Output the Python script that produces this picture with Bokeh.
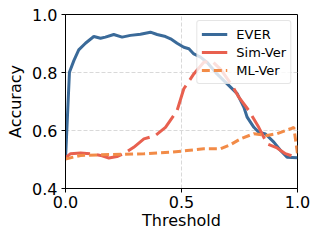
from bokeh.plotting import figure
from bokeh.models import Legend, LegendItem, FixedTicker, Range1d, NumeralTickFormatter
from bokeh.embed import file_html
from bokeh.resources import INLINE

ever_t = [0, 0.017, 0.036, 0.057, 0.086, 0.122, 0.151, 0.172, 0.208, 0.244, 0.28, 0.323, 0.366,
          0.395, 0.431, 0.453, 0.481, 0.51, 0.532, 0.553, 0.582, 0.61, 0.653, 0.697, 0.74, 0.769,
          0.783, 0.812, 0.833, 0.862, 0.898, 0.927, 0.955, 1.0]
ever_acc = [0.5, 0.801, 0.841, 0.878, 0.901, 0.924, 0.918, 0.922, 0.931, 0.922, 0.928, 0.932, 0.939,
            0.931, 0.924, 0.916, 0.901, 0.887, 0.882, 0.864, 0.853, 0.835, 0.795, 0.761, 0.727, 0.68,
            0.646, 0.611, 0.594, 0.588, 0.56, 0.531, 0.508, 0.506]

sim_t = [0, 0.022, 0.065, 0.108, 0.151, 0.187, 0.222, 0.251, 0.294, 0.338, 0.388, 0.431, 0.481,
         0.51, 0.553, 0.596, 0.63, 0.67, 0.718, 0.747, 0.79, 0.833, 0.869, 0.912, 0.948, 1.0]
sim_acc = [0.506, 0.52, 0.522, 0.52, 0.514, 0.505, 0.51, 0.52, 0.542, 0.571, 0.583, 0.611, 0.669,
           0.744, 0.795, 0.835, 0.84, 0.81, 0.755, 0.715, 0.669, 0.611, 0.554, 0.54, 0.52, 0.506]

ml_t = [0, 0.065, 0.194, 0.338, 0.453, 0.524, 0.596, 0.668, 0.711, 0.754, 0.812, 0.869, 0.912,
        0.97, 0.984, 1.0]
ml_acc = [0.502, 0.514, 0.517, 0.52, 0.525, 0.531, 0.537, 0.537, 0.551, 0.571, 0.589, 0.583, 0.589,
          0.606, 0.611, 0.52]

x_ticks = [0, 0.5, 1.0]
y_ticks = [0.4, 0.6, 0.8, 1.0]

FONT = "DejaVu Sans"

p = figure(width=319, height=241, output_backend="svg", toolbar_location=None,
           x_range=Range1d(0, 1), y_range=Range1d(0.4, 1.0),
           min_border_left=65, min_border_right=22, min_border_top=14, min_border_bottom=53)

p.outline_line_color = "black"
p.outline_line_width = 1
p.outline_line_alpha = 1

for ax in (p.xaxis[0], p.yaxis[0]):
    ax.axis_line_color = "black"
    ax.major_tick_line_color = "black"
    ax.major_tick_out = 4
    ax.major_tick_in = 0
    ax.minor_tick_line_color = None
    ax.major_label_text_font = FONT
    ax.major_label_text_font_size = "16px"
    ax.major_label_text_color = "black"
    ax.axis_label_text_font = FONT
    ax.axis_label_text_font_size = "16px"
    ax.axis_label_text_font_style = "normal"
    ax.axis_label_text_color = "black"
    ax.formatter = NumeralTickFormatter(format="0.0")

p.xaxis.ticker = FixedTicker(ticks=x_ticks)
p.yaxis.ticker = FixedTicker(ticks=y_ticks)
p.xaxis.axis_label = "Threshold"
p.yaxis.axis_label = "Accuracy"
p.xaxis.major_label_standoff = 3
p.yaxis.major_label_standoff = 4
p.xaxis.axis_label_standoff = 0
p.yaxis.axis_label_standoff = 4

for g in (p.xgrid[0], p.ygrid[0]):
    g.grid_line_color = "#d9d9d9"
    g.grid_line_dash = "4 2"
    g.grid_line_width = 1

r1 = p.line(ever_t, ever_acc, line_color="#3a6a99", line_width=3)
r2 = p.line(sim_t, sim_acc, line_color="#e8604f", line_width=3, line_dash="26 7")
r3 = p.line(ml_t, ml_acc, line_color="#f28b47", line_width=3, line_dash="8 4")

legend = Legend(items=[LegendItem(label="EVER", renderers=[r1]),
                       LegendItem(label="Sim-Ver", renderers=[r2]),
                       LegendItem(label="ML-Ver", renderers=[r3])],
                location="top_right")
legend.margin = 6
legend.padding = 4
legend.spacing = 0
legend.glyph_width = 26
legend.glyph_height = 18
legend.label_height = 18
legend.label_standoff = 9
legend.label_text_font = FONT
legend.label_text_font_size = "13px"
legend.label_text_color = "black"
legend.border_line_color = "#cccccc"
legend.border_line_width = 1
legend.background_fill_alpha = 0.8
legend.border_radius = 3
p.add_layout(legend)

open("out.html", "w").write(file_html(p, INLINE))
